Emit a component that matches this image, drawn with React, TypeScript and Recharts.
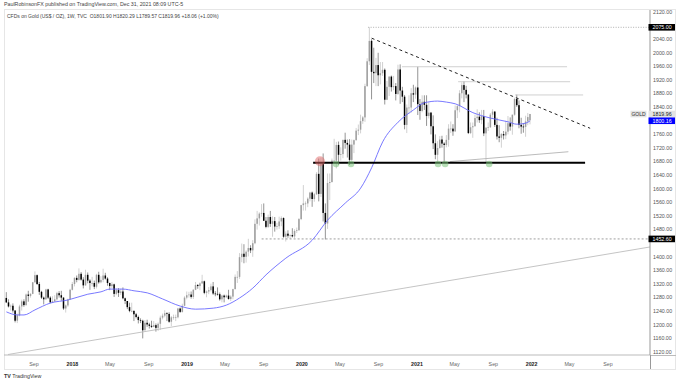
import React from 'react';
import { ComposedChart, Bar, Line, XAxis, YAxis, ReferenceLine, ReferenceDot } from 'recharts';

// Weekly OHLC, first bar = week of 5 Jun 2017
const w2017: number[][] = [
  [1279,1296,1264,1266],[1266,1275,1251,1254],[1254,1260,1242,1256],[1256,1263,1236,1242],
  [1242,1243,1207,1212],[1212,1233,1205,1228],[1228,1259,1225,1254],[1254,1274,1242,1269],
  [1269,1275,1253,1258],[1258,1292,1256,1289],[1289,1300,1268,1285],[1285,1293,1280,1291],
  [1291,1326,1290,1325],[1325,1357,1324,1346],[1346,1348,1317,1320],[1320,1326,1288,1297],
  [1297,1300,1276,1280],[1280,1283,1260,1275],[1275,1306,1274,1304],[1304,1306,1276,1280],
  [1280,1284,1263,1266],[1266,1284,1264,1269],[1269,1287,1267,1275],[1275,1297,1271,1293],
  [1293,1299,1280,1287],[1287,1300,1271,1280],[1280,1281,1244,1248],[1248,1260,1236,1257],
  [1257,1277,1253,1275],[1275,1306,1274,1303],
];
const w2018: number[][] = [
  [1303,1326,1301,1320],[1320,1340,1313,1338],[1338,1345,1325,1332],[1332,1366,1330,1350],
  [1350,1355,1330,1333],[1333,1340,1307,1316],[1316,1362,1315,1347],[1347,1354,1322,1330],
  [1330,1334,1303,1323],[1323,1341,1313,1323],[1323,1330,1305,1312],[1312,1350,1307,1347],
  [1347,1356,1321,1325],[1325,1343,1322,1332],[1332,1365,1325,1345],[1345,1353,1333,1336],
  [1336,1340,1315,1323],[1323,1324,1302,1314],[1314,1326,1308,1319],[1319,1321,1282,1291],
  [1291,1307,1287,1302],[1302,1308,1282,1294],[1294,1306,1288,1298],[1298,1310,1275,1278],
  [1278,1280,1261,1270],[1270,1270,1246,1252],[1252,1265,1237,1241],[1241,1265,1237,1241],
  [1241,1242,1211,1231],[1231,1235,1219,1223],[1223,1227,1204,1214],[1214,1219,1205,1212],
  [1212,1215,1160,1184],[1184,1214,1183,1206],[1206,1215,1194,1201],[1201,1206,1189,1197],
  [1197,1212,1191,1194],[1194,1211,1193,1199],[1199,1204,1180,1191],[1191,1207,1182,1203],
  [1203,1227,1185,1221],[1221,1233,1216,1227],[1227,1243,1222,1234],[1234,1237,1211,1232],
  [1232,1237,1206,1209],[1209,1226,1196,1222],[1222,1230,1215,1222],[1222,1230,1211,1222],
  [1222,1250,1219,1248],[1248,1251,1235,1238],[1238,1262,1236,1256],[1256,1284,1255,1280],
  [1280,1298,1275,1287],
];
const w2019: number[][] = [
  [1287,1297,1280,1289],[1289,1298,1277,1282],[1282,1305,1276,1303],[1303,1326,1302,1317],
  [1317,1320,1306,1314],[1314,1325,1302,1322],[1322,1347,1320,1328],[1328,1330,1290,1294],
  [1294,1301,1281,1298],[1298,1311,1290,1302],[1302,1321,1298,1313],[1313,1326,1288,1292],
  [1292,1299,1284,1291],[1291,1310,1286,1290],[1290,1295,1271,1275],[1275,1288,1266,1286],
  [1286,1289,1266,1281],[1281,1289,1280,1286],[1286,1303,1274,1276],[1276,1287,1270,1283],
  [1283,1306,1275,1305],[1305,1348,1304,1341],[1341,1358,1323,1341],[1341,1411,1335,1399],
  [1399,1439,1384,1409],[1409,1437,1381,1400],[1400,1419,1383,1415],[1415,1453,1401,1426],
  [1426,1434,1411,1419],[1419,1449,1400,1440],[1440,1510,1437,1497],[1497,1535,1480,1513],
  [1513,1531,1492,1527],[1527,1555,1518,1529],[1529,1557,1506,1506],[1506,1517,1484,1488],
  [1488,1524,1485,1517],[1517,1535,1488,1497],[1497,1519,1459,1505],[1505,1517,1474,1489],
  [1489,1500,1480,1490],[1490,1518,1482,1504],[1504,1519,1490,1514],[1514,1516,1456,1459],
  [1459,1475,1445,1468],[1468,1478,1456,1462],[1462,1466,1452,1464],[1464,1484,1457,1460],
  [1460,1481,1455,1476],[1476,1486,1470,1478],[1478,1514,1477,1511],[1511,1553,1508,1552],
];
const w2020: number[][] = [
  [1552,1611,1536,1557],[1557,1563,1536,1557],[1557,1575,1546,1571],[1571,1591,1563,1589],
  [1589,1592,1547,1570],[1570,1588,1562,1584],[1584,1649,1582,1644],[1644,1689,1563,1585],
  [1585,1692,1576,1674],[1674,1704,1504,1529],[1529,1557,1451,1498],[1498,1645,1482,1617],
  [1617,1645,1567,1620],[1620,1689,1618,1683],[1683,1747,1680,1683],[1683,1738,1660,1729],
  [1729,1739,1670,1700],[1700,1722,1683,1702],[1702,1744,1690,1744],[1744,1765,1718,1735],
  [1735,1745,1692,1730],[1730,1746,1670,1685],[1685,1745,1680,1730],[1730,1745,1705,1743],
  [1743,1779,1742,1771],[1771,1789,1758,1774],[1774,1818,1763,1799],[1799,1814,1791,1810],
  [1810,1909,1797,1902],[1902,1984,1900,1975],[1975,2075,1964,2035],[2035,2040,1863,1944],
  [1944,2015,1911,1940],[1940,1985,1902,1964],[1964,2000,1902,1934],[1934,1973,1907,1940],
  [1940,1973,1932,1950],[1950,1954,1848,1862],[1862,1917,1861,1900],[1900,1931,1873,1930],
  [1930,1933,1886,1899],[1899,1932,1890,1902],[1902,1911,1860,1879],[1879,1965,1876,1951],
  [1951,1966,1850,1889],[1889,1900,1855,1871],[1871,1876,1775,1788],[1788,1848,1764,1839],
  [1839,1875,1820,1839],[1839,1896,1824,1881],[1881,1906,1855,1877],[1877,1901,1865,1898],
];
const w2021: number[][] = [
  [1898,1959,1817,1849],[1849,1864,1803,1829],[1829,1875,1825,1856],[1856,1875,1832,1847],
  [1847,1875,1785,1814],[1814,1855,1807,1824],[1824,1826,1760,1784],[1784,1816,1717,1734],
  [1734,1760,1687,1700],[1700,1740,1676,1720],[1720,1755,1718,1745],[1745,1756,1721,1733],
  [1733,1737,1677,1729],[1729,1758,1722,1744],[1744,1790,1724,1777],[1777,1798,1764,1777],
  [1777,1790,1756,1769],[1769,1845,1767,1831],[1831,1846,1808,1843],[1843,1890,1825,1881],
  [1881,1913,1866,1905],[1905,1916,1855,1891],[1891,1903,1866,1877],[1877,1879,1761,1764],
  [1764,1795,1761,1781],[1781,1795,1750,1784],[1784,1818,1783,1808],[1808,1834,1795,1812],
  [1812,1825,1794,1802],[1802,1832,1790,1814],[1814,1832,1755,1763],[1763,1780,1677,1780],
  [1780,1795,1770,1781],[1781,1823,1779,1818],[1818,1834,1809,1827],[1827,1829,1782,1788],
  [1788,1809,1745,1754],[1754,1787,1737,1750],[1750,1764,1721,1761],[1761,1770,1745,1757],
  [1757,1800,1746,1768],[1768,1814,1760,1793],[1793,1810,1771,1783],[1783,1818,1759,1818],
  [1818,1868,1815,1864],[1864,1877,1841,1846],[1846,1860,1778,1788],[1788,1809,1762,1783],
  [1783,1793,1765,1782],[1782,1815,1753,1798],[1798,1823,1787,1811],[1801.9,1820.29,1789.57,1819.96],
];

// Moving average (week index, value)
const maWeeks = [0,5,8,13,20,28,37,43,47,53,58,64,71,79,86,94,100,106,112,118,127,139,146,154,161,166,171,178,185,190,196,200,204,212,220,228,232,236,238];
const maValues = [1238,1229,1229,1244,1264,1273,1290,1297,1305,1305,1300,1294,1276,1255,1246,1249,1258,1279,1308,1347,1396,1449,1508,1558,1602,1662,1738,1796,1832,1853,1858,1855,1850,1824,1808,1797,1790,1793,1800];

const yTicks = [1120,1160,1200,1240,1280,1320,1360,1400,1480,1520,1560,1600,1640,1680,1720,1760,1840,1880,1920,1960,2000,2040,2120];
const xTickPos = [12.57,30,47.1,64.7,82.1,99.3,116.9,134.3,151.6,169.1,186.6,203.7,221.3,238.7,255.9,273.4];
const xTickText = ['Sep','2018','May','Sep','2019','May','Sep','2020','May','Sep','2021','May','Sep','2022','May','Sep'];

const X_MIN = -1.09;
const X_MAX = 292.5;
const Y_MIN = 1111.2;
const Y_MAX = 2125.9;

const ohlc = [...w2017, ...w2018, ...w2019, ...w2020, ...w2021];
const data: any[] = ohlc.map(([o, h, l, c], i) => ({ i, o, h, l, c, range: [l, h] }));
maWeeks.forEach((k, j) => { if (data[k]) data[k].ma = maValues[j]; });

const FONT = '"Liberation Sans", Arial, sans-serif';

const Candle = (props: any) => {
  const { x, y, width, height, payload } = props;
  if (!payload) return null;
  const { o, h, l, c } = payload;
  const top = Math.min(y, y + height);
  const bottom = Math.max(y, y + height);
  const span = h - l || 1;
  const py = (v: number) => top + ((h - v) / span) * (bottom - top);
  const cx = x + width / 2;
  const up = c >= o;
  const bt = py(Math.max(o, c));
  const bb = py(Math.min(o, c));
  const bw = 1.5;
  return (
    <g>
      <line x1={cx} x2={cx} y1={top} y2={bottom} stroke={up ? '#bdbdbd' : '#666'} strokeWidth={0.7} />
      <rect x={cx - bw / 2} y={bt} width={bw} height={Math.max(bb - bt, 0.7)} fill={up ? '#9e9e9e' : '#000'} />
    </g>
  );
};

const axisBox = (text: string, bg: string, fg: string) => (p: any) => (
  <g>
    <rect x={p.cx - 1.5} y={p.cy - 3.3} width={26.5} height={6.6} fill={bg} />
    <text x={p.cx + 2.5} y={p.cy} dy="0.35em" fontSize={5.3} fill={fg} fontFamily={FONT}>{text}</text>
  </g>
);

const goldBox = (p: any) => (
  <g>
    <rect x={p.cx - 19.5} y={p.cy - 3.3} width={16} height={6.6} fill="#e3e3e3" />
    <text x={p.cx - 11.5} y={p.cy} dy="0.35em" textAnchor="middle" fontSize={5} fill="#333" fontFamily={FONT}>GOLD</text>
  </g>
);

const XTick = (p: any) => {
  const idx = xTickPos.indexOf(p.payload.value);
  const label = idx >= 0 ? xTickText[idx] : '';
  const isYear = /^\d{4}$/.test(label);
  return (
    <text x={p.x} y={p.y + 8.5} textAnchor="middle" fontSize={5.3} fill={isYear ? '#222' : '#666'} fontWeight={isYear ? 'bold' : 'normal'} fontFamily={FONT}>{label}</text>
  );
};

const YTick = (p: any) => (
  <text x={p.x} y={p.y} dy="0.35em" textAnchor="start" fontSize={5.3} fill="#555" fontFamily={FONT}>{Number(p.payload.value).toFixed(2)}</text>
);

const greenLows = [149.8, 156.6, 196.2, 199.4, 219.4];

export default function App() {
  return (
    <div style={{ position: 'absolute', left: 0, top: 0, width: 679, height: 381, background: '#fff', overflow: 'hidden', fontFamily: FONT }}>
      <div style={{ position: 'absolute', left: 4, top: 1, fontSize: 5.3, color: '#444', whiteSpace: 'nowrap' }}>
        PaulRobinsonFX published on TradingView.com, Dec 31, 2021 08:09 UTC-5
      </div>
      <svg width={679} height={381} style={{ position: 'absolute', left: 0, top: 0 }}>
        <rect x={4.5} y={9.5} width={671} height={360} fill="none" stroke="#e6e6e6" />
        <line x1={650} x2={676} y1={355.5} y2={355.5} stroke="#bbb" />
        <line x1={650.5} x2={650.5} y1={355} y2={369} stroke="#999" />
      </svg>
      <div style={{ position: 'absolute', left: 0, top: 0 }}>
        <ComposedChart width={679} height={381} data={data} margin={{ top: 10, right: 0, bottom: 12, left: 4 }}>
          <XAxis dataKey="i" type="number" domain={[X_MIN, X_MAX]} allowDataOverflow ticks={xTickPos}
            tick={<XTick />} tickLine={false} tickSize={0} axisLine={{ stroke: '#bbb' }} height={14} interval={0} />
          <YAxis orientation="right" type="number" domain={[Y_MIN, Y_MAX]} allowDataOverflow ticks={yTicks}
            tick={<YTick />} tickLine={false} tickSize={0} tickMargin={3} axisLine={{ stroke: '#999' }} width={29} interval={0} />

          <ReferenceLine segment={[{ x: 0.73, y: 1112.7 }, { x: X_MAX, y: 1428.9 }]} stroke="#b5b5b5" strokeWidth={0.8} ifOverflow="visible" />
          <ReferenceLine segment={[{ x: 116, y: 1452.6 }, { x: X_MAX, y: 1452.6 }]} stroke="#888" strokeWidth={0.8} strokeDasharray="2 2" ifOverflow="visible" />
          <ReferenceLine segment={[{ x: 164.4, y: 2075 }, { x: X_MAX, y: 2075 }]} stroke="#999" strokeWidth={0.8} strokeDasharray="1 1.5" ifOverflow="visible" />
          <ReferenceLine segment={[{ x: 179.8, y: 1959 }, { x: 254.8, y: 1959 }]} stroke="#c4c4c4" strokeWidth={0.8} ifOverflow="visible" />
          <ReferenceLine segment={[{ x: 205.3, y: 1915 }, { x: 256.2, y: 1915 }]} stroke="#c4c4c4" strokeWidth={0.8} ifOverflow="visible" />
          <ReferenceLine segment={[{ x: 231.2, y: 1876 }, { x: 262.1, y: 1876 }]} stroke="#c4c4c4" strokeWidth={0.8} ifOverflow="visible" />
          <ReferenceLine segment={[{ x: 201.6, y: 1680 }, { x: 255.4, y: 1709 }]} stroke="#aaa" strokeWidth={0.8} ifOverflow="visible" />

          <Line dataKey="ma" type="monotone" connectNulls dot={false} stroke="#6a6aff" strokeWidth={0.9} isAnimationActive={false} />
          <Bar dataKey="range" barSize={2} shape={<Candle />} isAnimationActive={false} />

          <ReferenceLine segment={[{ x: 166, y: 2043 }, { x: 265.3, y: 1778 }]} stroke="#222" strokeWidth={1} strokeDasharray="3 3" ifOverflow="visible" />
          <ReferenceLine segment={[{ x: 139.4, y: 1677 }, { x: 263, y: 1677 }]} stroke="#000" strokeWidth={2} ifOverflow="visible" />

          <ReferenceDot x={142.5} y={1681} r={5} fill="#e06666" fillOpacity={0.5} stroke="none" ifOverflow="visible" />
          {greenLows.map((gx) => (
            <ReferenceDot key={gx} x={gx} y={1673} r={3.3} fill="#7cc47c" fillOpacity={0.55} stroke="none" ifOverflow="visible" />
          ))}

          <ReferenceDot x={X_MAX} y={2075} r={0} ifOverflow="visible" shape={axisBox('2075.00', '#000', '#fff')} />
          <ReferenceDot x={X_MAX} y={1452.6} r={0} ifOverflow="visible" shape={axisBox('1452.60', '#000', '#fff')} />
          <ReferenceDot x={X_MAX} y={1819.96} r={0} ifOverflow="visible" shape={axisBox('1819.96', '#e3e3e3', '#222')} />
          <ReferenceDot x={X_MAX} y={1800.16} r={0} ifOverflow="visible" shape={axisBox('1800.16', '#0000ff', '#fff')} />
          <ReferenceDot x={X_MAX} y={1819.96} r={0} ifOverflow="visible" shape={goldBox} />
        </ComposedChart>
      </div>
      <div style={{ position: 'absolute', left: 7, top: 13, fontSize: 5, color: '#444', whiteSpace: 'nowrap' }}>
        CFDs on Gold (US$ / OZ), 1W, TVC&nbsp; O1801.90 H1820.29 L1789.57 C1819.96 +18.06 (+1.00%)
      </div>
      <div style={{ position: 'absolute', left: 4, top: 373, fontSize: 5.3, color: '#333', whiteSpace: 'nowrap' }}>
        <b>TV</b> TradingView
      </div>
    </div>
  );
}
